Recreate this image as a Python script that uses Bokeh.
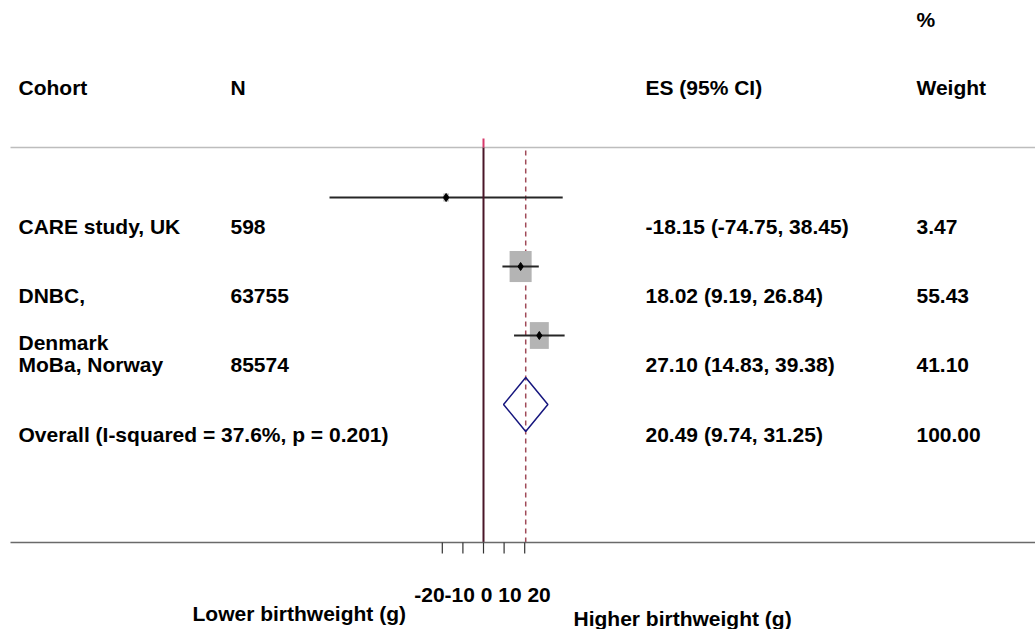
import math
from bokeh.plotting import figure
from bokeh.models import ColumnDataSource, Range1d
from bokeh.core.properties import value
from bokeh.embed import file_html
from bokeh.resources import INLINE

# ---------------- data ----------------
cohorts = ["CARE study, UK", "DNBC,", "MoBa, Norway"]
cohort_second_line = ["", "Denmark", ""]
n_values = [598, 63755, 85574]
es = [-18.15, 18.02, 27.10]
ci_low = [-74.75, 9.19, 14.83]
ci_high = [38.45, 26.84, 39.38]
weights = [3.47, 55.43, 41.10]

overall_label = "Overall  (I-squared = 37.6%, p = 0.201)"
overall_es = 20.49
overall_low = 9.74
overall_high = 31.25
overall_weight = 100.00

tick_values = [-20, -10, 0, 10, 20]
tick_labels = ["-20", "-10", "0", "10", "20"]
header_cols = ["Cohort", "N", "ES (95% CI)", "Weight"]
header_top = "%"
left_caption = "Lower birthweight (g)"
right_caption = "Higher birthweight (g)"

# ---------------- layout (page pixels -> data) ----------------
W, H = 1035, 629
PX = 2.06      # pixels per gram
RH = 69.0      # pixels per row
X0_PAGE = 483  # page x of effect 0
Y1_PAGE = 404  # page y of row 1 (overall)

def dx(page_x):
    return (page_x - X0_PAGE) / PX

def dy(page_y):
    return 1 + (Y1_PAGE - page_y) / RH

study_rows = [4, 3, 2]
overall_row = 1

p = figure(width=W, height=H, output_backend="svg", toolbar_location=None,
           x_range=Range1d(dx(0), dx(W)), y_range=Range1d(dy(H), dy(0)),
           x_axis_type=None, y_axis_type=None, min_border=0,
           background_fill_color="white", border_fill_color="white")
p.outline_line_color = None
p.xgrid.visible = False
p.ygrid.visible = False

FONT = value("Liberation Sans")
FS = "21px"

def txt(x, y, t, align="left", y_off=0, x_off=0):
    src = ColumnDataSource(dict(x=x, y=y, t=t))
    p.text(x="x", y="y", text="t", source=src, text_font=FONT, text_font_size=FS,
           text_font_style="bold", text_color="black", text_align=align,
           text_baseline="middle", y_offset=y_off, x_offset=x_off)

# header gray rule
y_rule = dy(147)
y_axis = dy(542)
p.segment(x0=[dx(10)], x1=[dx(W)], y0=[y_rule], y1=[y_rule],
          line_color="#bdbdbd", line_width=1.5)

# overall dashed line
p.segment(x0=[overall_es], x1=[overall_es], y0=[y_axis], y1=[y_rule],
          line_color="#a04a58", line_width=1.5, line_dash="5 4")

# weight boxes
box_w = [2.96 * math.sqrt(w) for w in weights]
box_h = [4.18 * math.sqrt(w) for w in weights]
bsrc = ColumnDataSource(dict(x=es, y=study_rows, w=box_w, h=box_h))
p.rect(x="x", y="y", width="w", height="h", width_units="screen", height_units="screen",
       source=bsrc, fill_color="#b4b4b4", line_color=None)

# confidence intervals
p.segment(x0=ci_low, x1=ci_high, y0=study_rows, y1=study_rows,
          line_color="#262626", line_width=2)

# null line
p.segment(x0=[0], x1=[0], y0=[y_axis], y1=[y_rule], line_color="#4a1628", line_width=2)
p.segment(x0=[0], x1=[0], y0=[y_rule], y1=[dy(138)], line_color="#d6386a", line_width=2)

# overall diamond
half = 27 / RH
p.patch(x=[overall_low, overall_es, overall_high, overall_es],
        y=[overall_row, overall_row + half, overall_row, overall_row - half],
        fill_color=None, line_color="#16167e", line_width=1.5)

# point estimates
p.scatter(x=es, y=study_rows, marker="diamond", size=8, color="black")

# bottom axis line and ticks
p.segment(x0=[dx(10)], x1=[dx(W)], y0=[y_axis], y1=[y_axis],
          line_color="#6a6a6a", line_width=1.5)
p.segment(x0=tick_values, x1=tick_values, y0=[y_axis] * len(tick_values),
          y1=[dy(553)] * len(tick_values), line_color="#333333", line_width=1.2)

# tick labels laid out as a run of text centred near zero
cw = {"-": 0.333, " ": 0.278}
def strw(s):
    return sum(cw.get(c, 0.556) for c in s) * 21
seps = ["", "", " ", " ", " "]
pos = []
cur = 0.0
for lab, sep in zip(tick_labels, seps):
    cur += strw(sep)
    pos.append(cur + strw(lab) / 2)
    cur += strw(lab)
group_center = (412 + 552) / 2 - X0_PAGE
offs = [q - cur / 2 + group_center for q in pos]
src_t = ColumnDataSource(dict(x=[0] * len(tick_labels), y=[dy(594)] * len(tick_labels),
                              t=tick_labels, o=offs))
p.text(x="x", y="y", text="t", x_offset="o", source=src_t, text_font=FONT,
       text_font_size=FS, text_font_style="bold", text_color="black",
       text_align="center", text_baseline="middle")

# captions
txt([dx(192)], [dy(612.5)], [left_caption])
txt([dx(573)], [dy(617.5)], [right_caption])

# headers
col_x = [dx(18), dx(230), dx(645), dx(916)]
txt(col_x, [dy(87)] * 4, header_cols)
txt([dx(916)], [dy(19)], [header_top])

# study rows text
txt([col_x[0]] * 3, study_rows, cohorts, y_off=29)
second = [(r, s) for r, s in zip(study_rows, cohort_second_line) if s]
txt([col_x[0]] * len(second), [r for r, s in second], [s for r, s in second], y_off=76)
txt([col_x[1]] * 3, study_rows, [str(n) for n in n_values], y_off=29)
txt([col_x[2]] * 3, study_rows,
    [f"{e:.2f} ({lo:.2f}, {hi:.2f})" for e, lo, hi in zip(es, ci_low, ci_high)], y_off=29)
txt([col_x[3]] * 3, study_rows, [f"{w:.2f}" for w in weights], y_off=29)

# overall row text
txt([col_x[0]], [overall_row], [overall_label], y_off=30)
txt([col_x[2]], [overall_row], [f"{overall_es:.2f} ({overall_low:.2f}, {overall_high:.2f})"], y_off=30)
txt([col_x[3]], [overall_row], [f"{overall_weight:.2f}"], y_off=30)

open("out.html", "w").write(file_html(p, INLINE))
